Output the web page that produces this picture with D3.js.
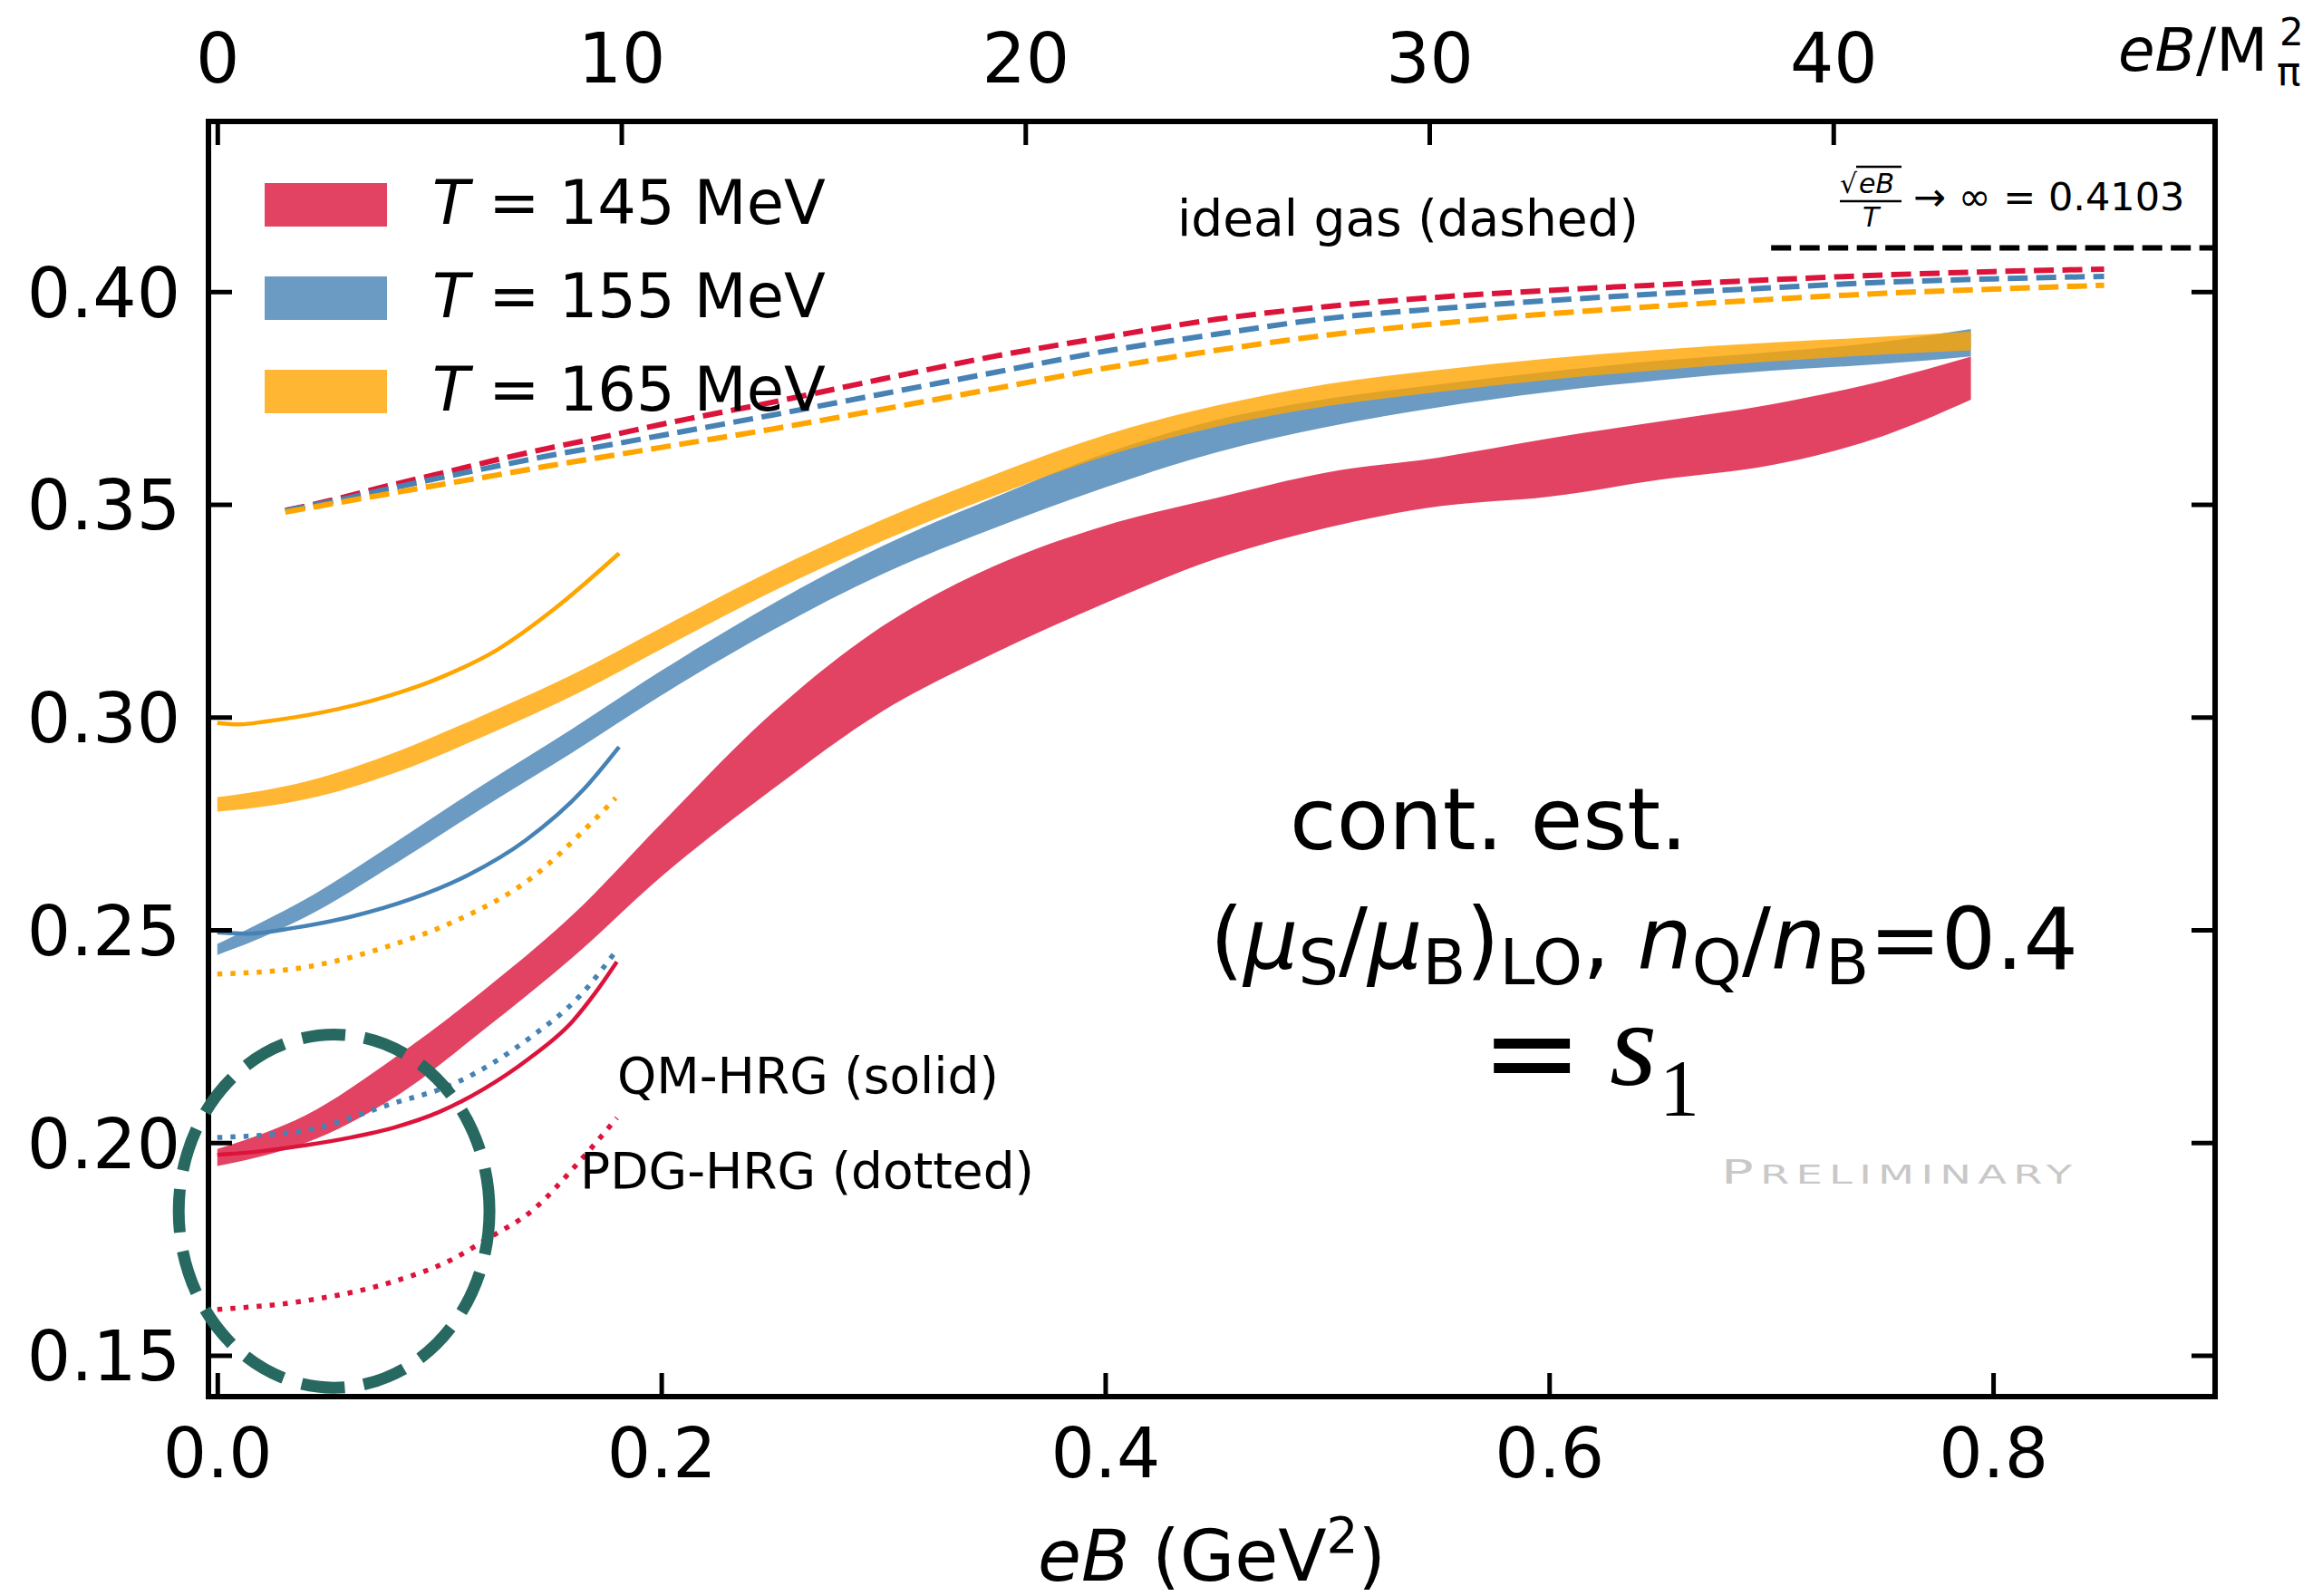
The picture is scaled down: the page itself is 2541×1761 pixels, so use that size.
<!DOCTYPE html>
<html>
<head>
<meta charset="utf-8">
<script src="https://cdnjs.cloudflare.com/ajax/libs/d3/7.8.5/d3.min.js"></script>
<style>
  body { margin: 0; background: #fff; }
  text { font-family: "DejaVu Sans", sans-serif; fill: #000; }
</style>
</head>
<body>
<div id="chart"></div>
<script>
// values

// lattice bands (cont. est.), eB in GeV^2
var eBBand = [0, 0.02, 0.04, 0.08, 0.12, 0.16, 0.20, 0.25, 0.30, 0.35, 0.40, 0.45, 0.50, 0.55, 0.60, 0.65, 0.70, 0.75, 0.79];
var lo145 = [0.1945, 0.1968, 0.2000, 0.2107, 0.2265, 0.2435, 0.2625, 0.2830, 0.3015, 0.3150, 0.3268, 0.3372, 0.3445, 0.3495, 0.3518, 0.3558, 0.3592, 0.3660, 0.3746];
var hi145 = [0.1985, 0.2020, 0.2065, 0.2200, 0.2358, 0.2535, 0.2750, 0.3010, 0.3215, 0.3355, 0.3450, 0.3515, 0.3575, 0.3610, 0.3655, 0.3695, 0.3735, 0.3790, 0.3847];
var lo155 = [0.2441, 0.2482, 0.2531, 0.2655, 0.2788, 0.2917, 0.3051, 0.3204, 0.3337, 0.3444, 0.3540, 0.3622, 0.3682, 0.3728, 0.3764, 0.3792, 0.3814, 0.3830, 0.3848];
var hi155 = [0.2467, 0.2518, 0.2573, 0.2705, 0.2842, 0.2973, 0.3109, 0.3266, 0.3403, 0.3516, 0.3620, 0.3698, 0.3748, 0.3782, 0.3812, 0.3838, 0.3858, 0.3882, 0.3912];
var lo165 = [0.2778, 0.2789, 0.2807, 0.2869, 0.2955, 0.3050, 0.3160, 0.3295, 0.3415, 0.3520, 0.3613, 0.3682, 0.3731, 0.3764, 0.3793, 0.3816, 0.3836, 0.3852, 0.3862];
var hi165 = [0.2812, 0.2827, 0.2849, 0.2917, 0.3005, 0.3100, 0.3210, 0.3345, 0.3465, 0.3570, 0.3663, 0.3732, 0.3783, 0.3816, 0.3843, 0.3864, 0.3880, 0.3894, 0.3906];

// ideal gas (dashed)
var eBIdeal = [0.0306, 0.05, 0.074, 0.10, 0.126, 0.15, 0.178, 0.20, 0.25, 0.30, 0.35, 0.40, 0.45, 0.50, 0.55, 0.60, 0.65, 0.70, 0.75, 0.80, 0.85];
var ideal145 = [0.3486, 0.3508, 0.3540, 0.3572, 0.3605, 0.3633, 0.3663, 0.3688, 0.3740, 0.3795, 0.3848, 0.3893, 0.3935, 0.3965, 0.3987, 0.4003, 0.4016, 0.4028, 0.4039, 0.4047, 0.4053];
var ideal155 = [0.3486, 0.3505, 0.3533, 0.3562, 0.3590, 0.3615, 0.3641, 0.3662, 0.3710, 0.3760, 0.3810, 0.3860, 0.3900, 0.3937, 0.3960, 0.3979, 0.3995, 0.4009, 0.4022, 0.4030, 0.4036];
var ideal165 = [0.3482, 0.3500, 0.3522, 0.3546, 0.3569, 0.3591, 0.3615, 0.3634, 0.3677, 0.3724, 0.3772, 0.3820, 0.3862, 0.3898, 0.3925, 0.3948, 0.3966, 0.3982, 0.3996, 0.4006, 0.4015];

// QM-HRG (solid)
var qmX145 = [0, 0.02, 0.04, 0.06, 0.08, 0.10, 0.12, 0.14, 0.16, 0.17, 0.18];
var qm145 = [0.1971, 0.1980, 0.1994, 0.2012, 0.2036, 0.2072, 0.2126, 0.2196, 0.2285, 0.2350, 0.2425];
var qmX155 = [0, 0.014, 0.035, 0.061, 0.087, 0.113, 0.139, 0.165, 0.181];
var qm155 = [0.2494, 0.2491, 0.2505, 0.2532, 0.2572, 0.2629, 0.2711, 0.2830, 0.2930];
var qmX165 = [0, 0.010, 0.022, 0.048, 0.074, 0.100, 0.126, 0.152, 0.181];
var qm165 = [0.2986, 0.2983, 0.2990, 0.3012, 0.3045, 0.3092, 0.3158, 0.3255, 0.3385];

// PDG-HRG (dotted)
var pdgX145 = [0, 0.038, 0.079, 0.106, 0.121, 0.142, 0.163, 0.180];
var pdg145 = [0.1608, 0.1627, 0.1673, 0.1726, 0.1772, 0.1841, 0.1955, 0.2058];
var pdgX155 = [0, 0.038, 0.079, 0.106, 0.142, 0.163, 0.179];
var pdg155 = [0.2012, 0.2027, 0.2092, 0.2137, 0.2251, 0.2343, 0.2446];
var pdgX165 = [0, 0.038, 0.079, 0.106, 0.142, 0.169, 0.1795];
var pdg165 = [0.2396, 0.2411, 0.2465, 0.2518, 0.2624, 0.2754, 0.2810];

// eB -> infinity limit
var limitX = [0.70, 0.90];
var limitY = 0.4103;

// ticks
var yTicks = [0.15, 0.20, 0.25, 0.30, 0.35, 0.40];
var xTicks = [0.0, 0.2, 0.4, 0.6, 0.8];
var topTicks = [0, 10, 20, 30, 40];
var mPi2 = 0.0182; // M_pi^2 in GeV^2

var temps = ["145", "155", "165"];
var colors = ["crimson", "steelblue", "orange"];

var svgWidth = 2541;
var svgHeight = 1761;

var margin = {
  top: 134,
  right: 97,
  bottom: 220,
  left: 230
};

var width = svgWidth - margin.left - margin.right;
var height = svgHeight - margin.top - margin.bottom;

var svg = d3
  .select("#chart")
  .append("svg")
  .attr("width", svgWidth)
  .attr("height", svgHeight);

var plot = svg.append("g")
  .attr("transform", `translate(${margin.left}, ${margin.top})`);

// scales
var x = d3.scaleLinear().domain([-0.004, 0.9]).range([0, width]);
var y = d3.scaleLinear().domain([0.1403, 0.44]).range([height, 0]);
var xTop = d3.scaleLinear().domain([-0.004 / mPi2, 0.9 / mPi2]).range([0, width]);

// bands
var bands = [[lo145, hi145], [lo155, hi155], [lo165, hi165]];
var area = d3.area()
  .x(d => x(d.x))
  .y0(d => y(d.lo))
  .y1(d => y(d.hi))
  .curve(d3.curveMonotoneX);

bands.forEach(function(b, k) {
  var rows = eBBand.map((v, i) => ({x: v, lo: b[0][i], hi: b[1][i]}));
  plot.append("path")
    .datum(rows)
    .attr("d", area)
    .attr("fill", colors[k])
    .attr("fill-opacity", 0.8);
});

var line = d3.line()
  .x(d => x(d[0]))
  .y(d => y(d[1]))
  .curve(d3.curveMonotoneX);

function drawLine(xs, ys, color, dash, lw) {
  plot.append("path")
    .datum(xs.map((v, i) => [v, ys[i]]))
    .attr("d", line)
    .attr("fill", "none")
    .attr("stroke", color)
    .attr("stroke-width", lw)
    .attr("stroke-dasharray", dash);
}

// ideal gas
[ideal145, ideal155, ideal165].forEach(function(s, k) {
  drawLine(eBIdeal, s, colors[k], "22,9.5", 6);
});

// QM-HRG
drawLine(qmX145, qm145, colors[0], null, 4.5);
drawLine(qmX155, qm155, colors[1], null, 4.5);
drawLine(qmX165, qm165, colors[2], null, 4.5);

// PDG-HRG
drawLine(pdgX145, pdg145, colors[0], "5.5,9", 5.5);
drawLine(pdgX155, pdg155, colors[1], "5.5,9", 5.5);
drawLine(pdgX165, pdg165, colors[2], "5.5,9", 5.5);

// asymptotic value
drawLine(limitX, [limitY, limitY], "black", "22,9.5", 6);

// axes, ticks pointing inward
var leftAxis = d3.axisLeft(y).tickValues(yTicks).tickFormat(d3.format(".2f"))
  .tickSizeInner(-26).tickSizeOuter(0).tickPadding(31);
var rightAxis = d3.axisRight(y).tickValues(yTicks).tickFormat("")
  .tickSizeInner(-26).tickSizeOuter(0);
var bottomAxis = d3.axisBottom(x).tickValues(xTicks).tickFormat(d3.format(".1f"))
  .tickSizeInner(-26).tickSizeOuter(0).tickPadding(35);
var topAxis = d3.axisTop(xTop).tickValues(topTicks).tickFormat(d3.format("d"))
  .tickSizeInner(-26).tickSizeOuter(0).tickPadding(43);

var gl = plot.append("g").call(leftAxis);
var gr = plot.append("g").attr("transform", `translate(${width}, 0)`).call(rightAxis);
var gb = plot.append("g").attr("transform", `translate(0, ${height})`).call(bottomAxis);
var gt = plot.append("g").call(topAxis);

[gl, gr, gb, gt].forEach(function(g) {
  g.select(".domain").remove();
  g.selectAll(".tick line").attr("stroke", "black").attr("stroke-width", 5);
  g.selectAll(".tick text")
    .style("font-family", "DejaVu Sans")
    .style("font-size", "76px")
    .attr("fill", "black");
});
gl.selectAll(".tick text").attr("dy", "0.36em");

// frame
plot.append("rect")
  .attr("width", width)
  .attr("height", height)
  .attr("fill", "none")
  .attr("stroke", "black")
  .attr("stroke-width", 6);

// axis labels
var xl = svg.append("text")
  .attr("x", margin.left + width / 2)
  .attr("y", 1744)
  .attr("text-anchor", "middle")
  .style("font-size", "78px");
xl.append("tspan").style("font-style", "italic").text("eB");
xl.append("tspan").text(" (GeV");
xl.append("tspan").attr("dy", -31).style("font-size", "55px").text("2");
xl.append("tspan").attr("dy", 31).text(")");

var tl = svg.append("text").attr("x", 2337).attr("y", 78).style("font-size", "66px");
tl.append("tspan").style("font-style", "italic").text("eB");
tl.append("tspan").text("/M");
svg.append("text").attr("x", 2515).attr("y", 50).style("font-size", "42px")
  .style("fill", "black").text("2");
svg.append("text").attr("x", 2512).attr("y", 94).style("font-size", "44px")
  .style("fill", "black").text("π");

// legend
temps.forEach(function(t, k) {
  var yy = 202 + k * 103;
  svg.append("rect")
    .attr("x", 292).attr("y", yy)
    .attr("width", 135).attr("height", 48)
    .attr("fill", colors[k])
    .attr("fill-opacity", 0.8);
  var lt = svg.append("text").attr("x", 477).attr("y", yy + 45).style("font-size", "67px");
  lt.append("tspan").style("font-style", "italic").text("T");
  lt.append("tspan").text(" = " + t + " MeV");
});

// annotations
svg.append("text").attr("x", 1299).attr("y", 260).style("font-size", "55px").text("ideal gas (dashed)");
svg.append("text").attr("x", 681).attr("y", 1206).style("font-size", "55px").text("QM-HRG (solid)");
svg.append("text").attr("x", 640).attr("y", 1311).style("font-size", "55px").text("PDG-HRG (dotted)");

// sqrt(eB)/T -> inf = 0.4103
svg.append("text").attr("x", 2030).attr("y", 213).style("font-size", "30px").text("√");
svg.append("line").attr("x1", 2048).attr("x2", 2098).attr("y1", 184).attr("y2", 184)
  .attr("stroke", "black").attr("stroke-width", 2.5);
svg.append("text").attr("x", 2051).attr("y", 213).style("font-size", "30px")
  .style("font-style", "italic").text("eB");
svg.append("line").attr("x1", 2030).attr("x2", 2098).attr("y1", 222).attr("y2", 222)
  .attr("stroke", "black").attr("stroke-width", 2.5);
svg.append("text").attr("x", 2055).attr("y", 250).style("font-size", "30px")
  .style("font-style", "italic").text("T");
svg.append("text").attr("x", 2111).attr("y", 232).style("font-size", "43px").text("→ ∞ = 0.4103");

// cont. est. block
svg.append("text").attr("x", 1423).attr("y", 937).style("font-size", "94px").text("cont. est.");

var l2 = svg.append("text").attr("x", 1335).attr("y", 1069).style("font-size", "95px");
var sub = 17;
l2.append("tspan").text("(");
l2.append("tspan").style("font-style", "italic").text("μ");
l2.append("tspan").attr("dy", sub).style("font-size", "70px").text("S");
l2.append("tspan").attr("dy", -sub).text("/");
l2.append("tspan").style("font-style", "italic").text("μ");
l2.append("tspan").attr("dy", sub).style("font-size", "70px").text("B");
l2.append("tspan").attr("dy", -sub).text(")");
l2.append("tspan").attr("dy", sub).style("font-size", "70px").text("LO");
l2.append("tspan").attr("dy", -sub).text(", ");
l2.append("tspan").style("font-style", "italic").text("n");
l2.append("tspan").attr("dy", sub).style("font-size", "70px").text("Q");
l2.append("tspan").attr("dy", -sub).text("/");
l2.append("tspan").style("font-style", "italic").text("n");
l2.append("tspan").attr("dy", sub).style("font-size", "70px").text("B");
l2.append("tspan").attr("dy", -sub).text("=0.4");

svg.append("text").attr("x", 1634).attr("y", 1207).style("font-size", "134px").text("=");
svg.append("text").attr("x", 1776).attr("y", 1197)
  .style("font-family", "Liberation Serif").style("font-style", "italic")
  .style("font-size", "134px").text("s");
svg.append("text").attr("x", 1831).attr("y", 1230)
  .style("font-family", "Liberation Serif").style("font-size", "88px").text("1");

// watermark, wide small caps
var pre = svg.append("text")
  .attr("transform", "translate(1899, 1306) scale(1.6, 1)")
  .attr("textLength", 242).attr("lengthAdjust", "spacing")
  .style("font-size", "37px").style("fill", "#c8c8c8");
pre.append("tspan").text("P");
pre.append("tspan").style("font-size", "29px").text("RELIMINARY");

// highlight ellipse around eB = 0
var ec = [0.0526, 0.1839];
var er = [0.0700, 0.0415];
plot.append("ellipse")
  .attr("cx", x(ec[0]))
  .attr("cy", y(ec[1]))
  .attr("rx", x(ec[0] + er[0]) - x(ec[0]))
  .attr("ry", y(ec[1]) - y(ec[1] + er[1]))
  .attr("fill", "none")
  .attr("stroke", "#276860")
  .attr("stroke-width", 13)
  .attr("stroke-dasharray", "48,21");
</script>
</body>
</html>
